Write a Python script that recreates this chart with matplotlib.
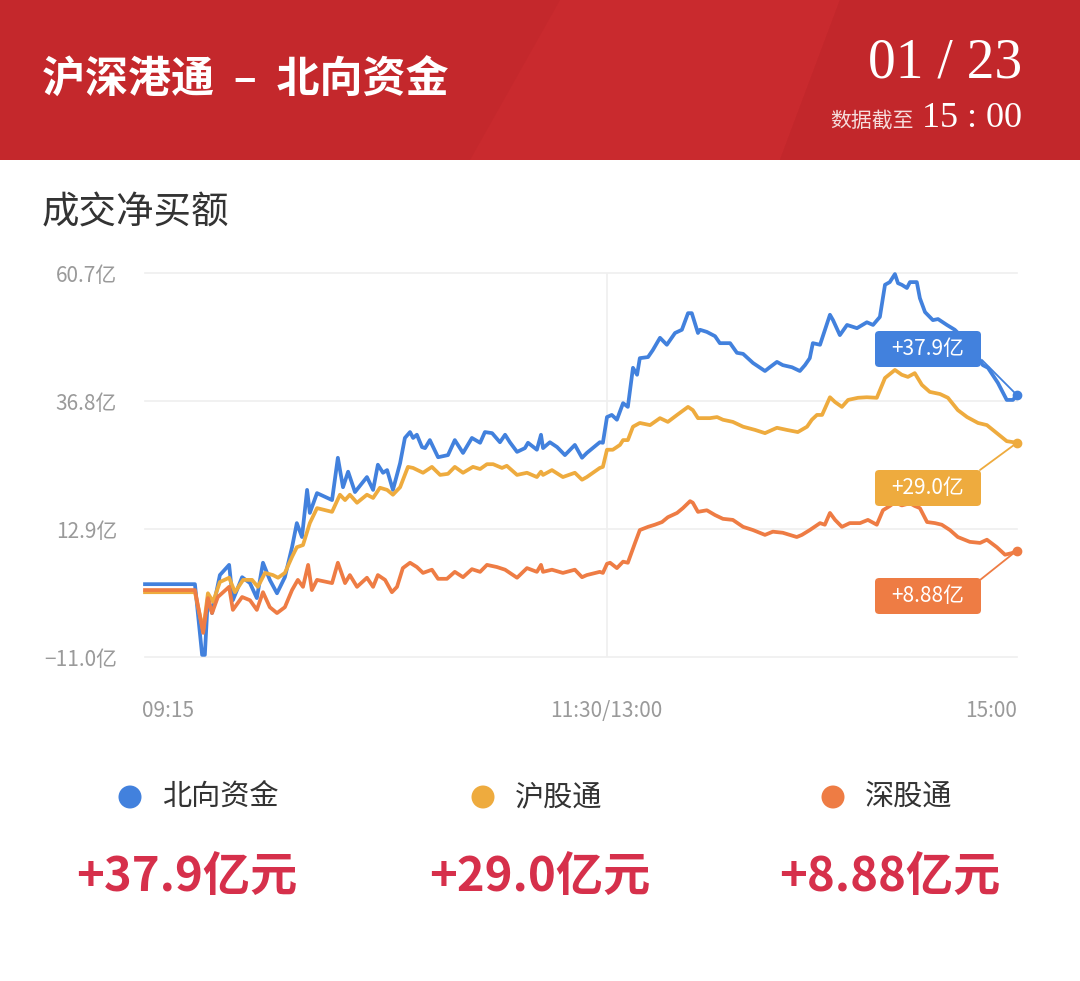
import matplotlib
matplotlib.use('Agg')
import matplotlib.pyplot as plt
from matplotlib.patches import Rectangle, Polygon, FancyBboxPatch, Ellipse

plt.rcParams['font.family'] = ['Noto Sans CJK SC', 'DejaVu Sans']

# minutes since 09:15 (11:30 and 13:00 share t=135), values in 亿元
north_t = [0, 14.6, 16.7, 17.5, 18.4, 19.6, 21.9, 24.6, 25.7, 28.4, 30.7, 32.7, 34.5, 36.5, 38.6,
           40.9, 43.0, 44.4, 45.9, 47.4, 48.2, 50.3, 54.7, 56.4, 57.9, 59.4, 61.4, 64.9, 66.7,
           68.1, 69.6, 70.8, 72.5, 74.6, 76.0, 77.5, 78.4, 79.5, 81.0, 81.9, 83.3, 85.7, 88.6,
           90.6, 93.0, 95.6, 98.0, 99.4, 101.5, 103.8, 105.3, 106.7, 108.8, 111.1, 112.0, 114.6,
           115.8, 116.4, 118.4, 120.5, 122.8, 125.7, 127.8, 129.2, 133.0, 133.9, 135.1, 136.5,
           138.0, 139.8, 141.2, 142.7, 143.9, 144.7, 147.1, 148.5, 150.6, 152.6, 155.0, 157.0,
           158.8, 159.9, 161.7, 162.3, 164.3, 166.7, 168.1, 171.1, 173.1, 174.9, 177.8, 181.3,
           182.7, 184.8, 186.5, 189.2, 191.5, 193.0, 194.4, 195.3, 197.4, 200.3, 201.2, 203.2,
           205.3, 208.2, 211.1, 212.9, 214.9, 216.4, 217.8, 219.3, 220.2, 221.3, 222.8, 223.7,
           225.7, 226.6, 228.1, 230.4, 231.9, 234.5, 236.8, 239.8, 242.7, 245.0, 246.5, 249.4,
           252.0, 253.8, 255.0]
north_v = [2.6, 2.6, -10.6, -10.6, 0.2, -2.8, 4.3, 6.2, -0.4, 3.9, 2.8, 0.0, 6.6, 3.4, 0.9,
           3.9, 9.5, 14.0, 11.4, 20.2, 15.9, 19.6, 18.3, 26.2, 20.7, 23.6, 19.8, 22.6, 20.2,
           24.9, 23.4, 23.9, 20.2, 25.2, 29.9, 31.0, 29.9, 30.5, 28.2, 28.0, 29.5, 26.3, 26.7,
           29.5, 27.1, 29.9, 29.0, 31.0, 30.8, 29.1, 30.5, 29.1, 27.3, 28.0, 29.0, 27.7,
           30.5, 28.0, 29.1, 28.2, 26.7, 28.6, 26.2, 27.1, 29.1, 29.0, 33.8, 34.2,
           33.3, 36.4, 35.7, 43.0, 41.7, 44.8, 45.0, 46.3, 48.6, 47.3, 49.5, 50.1,
           53.2, 53.2, 49.5, 50.1, 49.7, 48.9, 47.6, 47.6, 45.8, 45.6, 43.9, 42.4,
           43.1, 44.1, 43.5, 43.1, 42.4, 43.5, 44.8, 47.6, 47.3, 52.9, 51.9, 49.1,
           51.0, 50.4, 51.5, 51.0, 52.5, 58.5, 59.0, 60.5, 58.8, 58.5, 57.9, 59.0,
           59.0, 56.0, 53.4, 51.9, 52.1, 51.0, 50.1, 48.2, 46.0, 43.5, 43.0, 40.2,
           37.0, 37.0, 37.9]

sh_t = [0, 14.6, 17.0, 18.4, 19.9, 21.9, 24.6, 26.3, 28.7, 31.3, 33.0, 35.1, 37.4, 38.9, 40.9,
        43.0, 44.4, 46.2, 48.2, 50.3, 54.7, 57.0, 58.5, 59.9, 62.0, 64.9, 66.7, 68.7, 70.8,
        72.5, 74.6, 76.9, 78.4, 81.3, 83.9, 86.3, 88.6, 90.6, 93.0, 95.9, 98.0, 100.0, 101.8,
        104.4, 105.8, 108.8, 111.7, 114.6, 115.8, 116.4, 119.0, 122.2, 125.7, 127.8, 129.2,
        133.0, 133.9, 135.1, 136.8, 138.9, 139.8, 141.2, 142.7, 144.7, 147.7, 150.6, 152.9,
        155.6, 158.8, 160.2, 161.7, 165.2, 167.3, 169.0, 171.9, 174.9, 178.4, 181.3, 184.8,
        187.7, 190.9, 193.6, 195.0, 196.5, 198.0, 200.3, 201.8, 203.8, 205.6, 208.5, 211.1,
        214.0, 216.4, 219.3, 221.3, 223.1, 225.1, 227.2, 229.5, 232.5, 234.8, 237.7, 240.4,
        243.6, 246.2, 249.1, 252.0, 255.0]
sh_v = [1.1, 1.1, -6.0, 0.9, -0.7, 3.0, 3.8, 1.1, 3.4, 3.4, 2.1, 4.7, 4.3, 3.8, 4.7,
        7.7, 9.5, 9.9, 14.0, 16.8, 16.1, 19.3, 18.3, 19.3, 17.8, 19.3, 18.7, 20.6, 20.2,
        19.3, 20.7, 24.5, 24.3, 23.4, 24.5, 23.0, 23.2, 24.5, 23.4, 24.5, 24.1, 25.0, 25.0,
        24.3, 24.7, 23.0, 23.4, 22.6, 23.6, 23.0, 23.9, 22.6, 23.4, 22.1, 22.6,
        24.3, 24.5, 27.7, 27.7, 28.6, 29.5, 29.5, 32.0, 32.7, 32.3, 33.6, 32.9,
        34.2, 35.7, 35.1, 33.6, 33.6, 33.8, 33.3, 32.9, 32.0, 31.4, 30.8, 31.8,
        31.4, 31.0, 32.0, 33.3, 34.2, 34.2, 37.5, 36.6, 35.7, 37.0, 37.4, 37.5,
        37.4, 41.1, 42.6, 41.7, 41.3, 42.0, 39.8, 38.5, 38.1, 37.4, 35.1, 33.8,
        32.7, 32.3, 30.8, 29.3, 29.0]

sz_t = [0, 14.6, 17.0, 18.4, 19.6, 21.3, 24.6, 25.7, 28.4, 30.7, 32.7, 34.5, 36.5, 38.6, 40.9,
        43.0, 44.7, 46.2, 47.7, 48.8, 50.3, 54.7, 56.4, 58.5, 59.9, 62.0, 64.9, 66.7, 68.1,
        70.2, 72.2, 73.7, 75.4, 77.5, 79.5, 81.3, 83.9, 85.7, 88.3, 90.6, 93.0, 95.6, 98.0,
        100.0, 102.9, 105.3, 108.8, 111.7, 114.6, 115.8, 116.4, 119.0, 122.2, 125.7, 127.8,
        129.2, 133.0, 133.9, 135.1, 136.0, 138.0, 139.8, 141.2, 143.3, 144.7, 147.1, 149.1,
        151.2, 152.9, 155.6, 157.3, 159.4, 160.2, 161.7, 164.3, 166.7, 169.0, 171.9, 174.9,
        177.8, 181.3, 183.6, 186.5, 190.6, 192.1, 194.4, 197.4, 198.8, 200.3, 201.8, 203.8,
        206.1, 209.1, 211.4, 214.0, 215.8, 217.8, 219.3, 221.3, 223.7, 225.1, 226.6, 228.7,
        231.0, 233.0, 235.4, 237.7, 241.2, 244.2, 246.2, 249.1, 251.5, 253.5, 255.0]
sz_v = [1.5, 1.5, -6.5, 0.0, -2.8, 0.2, 2.1, -2.2, 0.2, -0.4, -2.2, 1.1, -1.7, -2.8, -1.7,
        1.5, 3.4, 2.1, 6.2, 1.5, 3.4, 2.8, 6.6, 2.8, 4.3, 2.1, 3.8, 2.1, 4.3,
        3.4, 1.1, 2.1, 5.6, 6.6, 5.8, 4.7, 5.3, 3.6, 3.6, 4.9, 3.9, 5.4, 4.9,
        6.2, 5.8, 5.3, 3.8, 5.6, 4.9, 6.2, 4.9, 5.3, 4.7, 5.3, 3.9,
        4.3, 4.9, 4.7, 6.4, 6.6, 5.6, 6.8, 6.6, 10.3, 12.7, 13.3, 13.7,
        14.2, 15.1, 15.9, 16.8, 18.1, 17.8, 16.1, 16.4, 15.5, 14.8, 14.6, 13.3,
        12.7, 11.8, 12.4, 12.2, 11.4, 11.8, 12.7, 14.0, 13.7, 15.9, 14.6, 13.3,
        14.0, 14.0, 14.6, 13.7, 16.4, 17.2, 17.9, 17.3, 17.7, 17.2, 16.8, 14.2,
        14.0, 13.7, 12.7, 11.4, 10.5, 10.3, 10.9, 9.5, 8.1, 8.4, 8.88]

series_names = ['北向资金', '沪股通', '深股通']
series_colors = ['#4281DD', '#EEAB3E', '#EE7C44']
end_labels = ['+37.9亿', '+29.0亿', '+8.88亿']
big_values = ['+37.9亿元', '+29.0亿元', '+8.88亿元']

y_ticks = [-11.0, 12.9, 36.8, 60.7]
y_ticklabels = ['−11.0亿', '12.9亿', '36.8亿', '60.7亿']
x_ticks = [0, 135, 255]
x_ticklabels = ['09:15', '11:30/13:00', '15:00']

W, H = 1080, 981


def fx(x):
    return x / W


def fy(y):
    return 1 - y / H


fig = plt.figure(figsize=(W / 100, H / 100), dpi=100)
fig.patch.set_facecolor('white')

# red header band with a soft diagonal sheen
fig.patches.append(Rectangle((0, fy(160)), 1, 160 / H, transform=fig.transFigure,
                             facecolor='#C4282C', edgecolor='none', zorder=0))
sheen = [(fx(560), fy(0)), (fx(840), fy(0)), (fx(780), fy(160)), (fx(470), fy(160))]
fig.patches.append(Polygon(sheen, closed=True, transform=fig.transFigure,
                           facecolor='#C92A2E', edgecolor='none', zorder=0))
fig.patches.append(Polygon([(fx(840), fy(0)), (fx(1080), fy(0)), (fx(1080), fy(160)), (fx(780), fy(160))],
                           closed=True, transform=fig.transFigure,
                           facecolor='#C2272B', edgecolor='none', zorder=0))

fig.text(fx(42), fy(80), '沪深港通  –  北向资金', color='white', fontsize=31,
         fontweight='bold', ha='left', va='center')
fig.text(fx(1022), fy(78), '01 / 23', color='white', fontsize=40,
         family=['Liberation Serif', 'DejaVu Serif'], ha='right', va='baseline')
fig.text(fx(1022), fy(127), '15 : 00', color='white', fontsize=26,
         family=['Liberation Serif', 'DejaVu Serif'], ha='right', va='baseline')
fig.text(fx(914), fy(127), '数据截至', color='#F6DCDC', fontsize=15,
         ha='right', va='baseline')

fig.text(fx(42), fy(213), '成交净买额', color='#333333', fontsize=27,
         ha='left', va='center')

# main chart
ax = fig.add_axes([fx(145), fy(657), 872 / W, 384 / H])
ax.set_xlim(0, 255)
ax.set_ylim(-11.0, 60.7)
for s in ax.spines.values():
    s.set_visible(False)
ax.set_yticks(y_ticks)
ax.set_yticklabels(y_ticklabels)
ax.set_xticks([])
ax.tick_params(axis='y', length=0, pad=20, labelsize=15, labelcolor='#9A9A9A')
for yv in y_ticks:
    ax.axhline(yv, color='#EFEFEF', lw=1.2, zorder=0, clip_on=False)
ax.axvline(135, color='#EFEFEF', lw=1.2, zorder=0)

for tt, vv, c in [(north_t, north_v, series_colors[0]),
                  (sh_t, sh_v, series_colors[1]),
                  (sz_t, sz_v, series_colors[2])]:
    ax.plot(tt, vv, color=c, lw=2.7, solid_joinstyle='round', clip_on=False, zorder=3)
    ax.plot(tt[-1], vv[-1], 'o', color=c, ms=6, clip_on=False, zorder=4)

# time labels under the plot
for xv, lab in zip(x_ticks, x_ticklabels):
    xpix = 145 + xv * 872 / 255
    ha = 'center'
    if xv == 0:
        xpix, ha = 142, 'left'
    elif xv == 255:
        ha = 'right'
    fig.text(fx(xpix), fy(711), lab, color='#9A9A9A', fontsize=15, ha=ha, va='center')

# end-value tags with connectors
box_centers = [349, 488, 596]
box_anchor = [(982, 360), (980, 470), (980, 580)]
ends = [(north_t[-1], north_v[-1]), (sh_t[-1], sh_v[-1]), (sz_t[-1], sz_v[-1])]
for yc, anc, end, c, lab in zip(box_centers, box_anchor, ends, series_colors, end_labels):
    ax.annotate('', xy=end, xycoords='data',
                xytext=(anc[0], H - anc[1]), textcoords='figure pixels',
                arrowprops=dict(arrowstyle='-', color=c, lw=1.3, shrinkA=0, shrinkB=0),
                annotation_clip=False)
    fig.patches.append(FancyBboxPatch((fx(875), fy(yc + 18)), 106 / W, 36 / H,
                                      boxstyle='round,pad=0,rounding_size=0.004',
                                      transform=fig.transFigure,
                                      facecolor=c, edgecolor='none', zorder=5))
    fig.text(fx(928), fy(yc), lab, color='white', fontsize=15, ha='center',
             va='center', zorder=6)

# legend row and totals
legend_x = [130, 483, 833]
value_x = [187, 540, 890]
for lx, vx, name, c, val in zip(legend_x, value_x, series_names, series_colors, big_values):
    fig.patches.append(Ellipse((fx(lx), fy(797)), 23 / W, 23 / H, transform=fig.transFigure,
                               facecolor=c, edgecolor='none'))
    fig.text(fx(lx + 32), fy(797), name, color='#333333', fontsize=21,
             ha='left', va='center')
    fig.text(fx(vx), fy(877), val, color='#D6304B', fontsize=34,
             fontweight='bold', ha='center', va='center')

fig.savefig('out.png', dpi=100)
